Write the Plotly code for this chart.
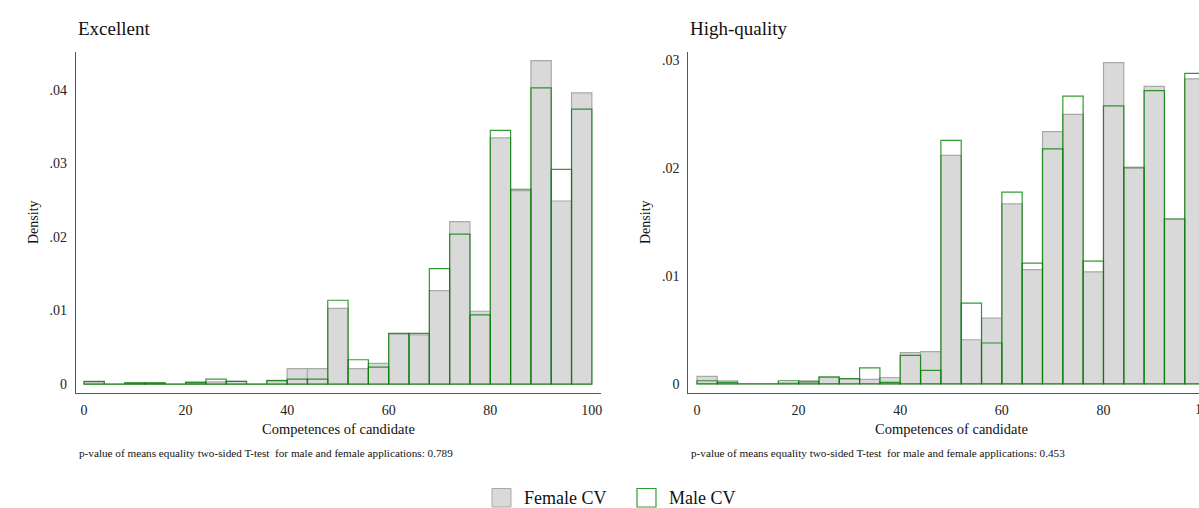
import numpy as np
import plotly.graph_objects as go

# ---- data (densities per 4-point bin, 0..100) ----
bin_edges = np.arange(0, 100, 4)
bin_width = 4

exc_female = [0.0003, 0.0, 0.00015, 0.00015, 0.0, 0.0003, 0.0003, 0.00036, 0.0, 0.0005,
              0.0021, 0.0021, 0.0103, 0.0021, 0.0028, 0.0068, 0.0067, 0.0127, 0.0221, 0.0099,
              0.0335, 0.0263, 0.0440, 0.0249, 0.0396]
exc_male = [0.00035, 0.0, 0.00015, 0.00015, 0.0, 0.0002, 0.00068, 0.00036, 0.0, 0.00045,
            0.00068, 0.00068, 0.0114, 0.0033, 0.0023, 0.0069, 0.0069, 0.0157, 0.0204, 0.0094,
            0.0345, 0.0265, 0.0403, 0.0292, 0.0374]

hq_female = [0.0007, 0.0003, 0.0, 0.0, 0.0001, 0.0003, 0.0006, 0.00046, 0.00043, 0.0006,
             0.0029, 0.0030, 0.0212, 0.0041, 0.0061, 0.0167, 0.0106, 0.0234, 0.0250, 0.0104,
             0.0298, 0.0200, 0.0276, 0.0153, 0.0283]
hq_male = [0.0003, 0.00015, 0.0, 0.0, 0.0003, 0.0002, 0.00065, 0.0005, 0.0015, 0.00015,
           0.00265, 0.00126, 0.0226, 0.0075, 0.0038, 0.0178, 0.0112, 0.0218, 0.0267, 0.0114,
           0.0258, 0.0201, 0.0272, 0.0153, 0.0288]

panel_titles = ["Excellent", "High-quality"]
x_ticks = [0, 20, 40, 60, 80, 100]
y_ticks_left = [0, 0.01, 0.02, 0.03, 0.04]
y_ticks_right = [0, 0.01, 0.02, 0.03]
y_ticktext_left = ["0", ".01", ".02", ".03", ".04"]
y_ticktext_right = ["0", ".01", ".02", ".03"]
notes = ["p-value of means equality two-sided T-test  for male and female applications: 0.789",
         "p-value of means equality two-sided T-test  for male and female applications: 0.453"]
series_names = ["Female CV", "Male CV"]

# ---- style ----
W, H = 1199, 508
FONT = "Liberation Serif"
fem_fill = "#d9d9d9"
fem_line = "#a9a9a9"
male_line = "rgba(0,128,0,0.8)"
axis_col = "#555555"

centers = bin_edges + bin_width / 2

def px(x):
    return x / W

def py(y):
    return (H - y) / H

fig = go.Figure()
for ax, (fem, male) in enumerate([(exc_female, exc_male), (hq_female, hq_male)]):
    xa = "x" if ax == 0 else "x2"
    ya = "y" if ax == 0 else "y2"
    fig.add_trace(go.Bar(x=centers, y=fem, width=bin_width, xaxis=xa, yaxis=ya,
                         marker=dict(color=fem_fill, line=dict(color=fem_line, width=1.2)),
                         name=series_names[0], showlegend=False))
    fig.add_trace(go.Bar(x=centers, y=male, width=bin_width, xaxis=xa, yaxis=ya,
                         marker=dict(color="rgba(0,0,0,0)", line=dict(color=male_line, width=1.2)),
                         name=series_names[1], showlegend=False))

ydom = [py(392.7), py(52)]
common_x = dict(showline=True, linecolor=axis_col, linewidth=1, ticks="", showgrid=False,
                zeroline=False, tickvals=x_ticks, tickfont=dict(family=FONT, size=14, color="#222"),
                ticklabelstandoff=4)
common_y = dict(showline=True, linecolor=axis_col, linewidth=1, ticks="", showgrid=False,
                zeroline=False, tickfont=dict(family=FONT, size=14, color="#222"),
                ticklabelstandoff=5)

fig.update_layout(
    width=W, height=H, margin=dict(l=0, r=0, t=0, b=0),
    plot_bgcolor="white", paper_bgcolor="white", barmode="overlay", showlegend=False,
    xaxis=dict(domain=[px(75.7), px(601)], range=[-1.63, 101.8], anchor="y", **common_x),
    yaxis=dict(domain=ydom, range=[-0.00118, 0.04517], anchor="x",
               tickvals=y_ticks_left, ticktext=y_ticktext_left, **common_y),
    xaxis2=dict(domain=[px(688.3), 1.0], range=[-1.71, 98.8], anchor="y2", **common_x),
    yaxis2=dict(domain=ydom, range=[-0.00081, 0.03079], anchor="x2",
                tickvals=y_ticks_right, ticktext=y_ticktext_right, **common_y),
)

ann = []
tfont = dict(family=FONT, color="#111")
for i, (xl, xc, xd) in enumerate([(76, 338, 33), (688, 951, 645)]):
    ann.append(dict(text=panel_titles[i], x=px(xl), y=py(28), xref="paper", yref="paper",
                    xanchor="left", yanchor="middle", showarrow=False, font=dict(size=19, **tfont)))
    ann.append(dict(text="Competences of candidate", x=px(xc), y=py(429), xref="paper", yref="paper",
                    xanchor="center", yanchor="middle", showarrow=False, font=dict(size=14.5, **tfont)))
    ann.append(dict(text="Density", x=px(xd), y=py(222), xref="paper", yref="paper", textangle=-90,
                    xanchor="center", yanchor="middle", showarrow=False, font=dict(size=14, **tfont)))
    ann.append(dict(text=notes[i], x=px(xl + 1), y=py(453), xref="paper", yref="paper",
                    xanchor="left", yanchor="middle", showarrow=False, font=dict(size=11.2, **tfont)))
# clipped "100" tick label of right panel (cut by the picture edge as in the original)
ann.append(dict(text="100", x=px(1205), y=py(409), xref="paper", yref="paper", xanchor="center",
                yanchor="middle", showarrow=False, font=dict(family=FONT, size=14, color="#222")))

# manual legend
shapes = [
    dict(type="rect", xref="paper", yref="paper", x0=px(492), x1=px(511), y0=py(507), y1=py(488.5),
         fillcolor=fem_fill, line=dict(color=fem_line, width=1)),
    dict(type="rect", xref="paper", yref="paper", x0=px(637), x1=px(656), y0=py(507), y1=py(488.5),
         fillcolor="white", line=dict(color=male_line, width=1.2)),
]
ann.append(dict(text=series_names[0], x=px(521.5), y=py(497.5), xref="paper", yref="paper",
                xanchor="left", yanchor="middle", showarrow=False, font=dict(size=18, **tfont)))
ann.append(dict(text=series_names[1], x=px(666.5), y=py(497.5), xref="paper", yref="paper",
                xanchor="left", yanchor="middle", showarrow=False, font=dict(size=18, **tfont)))

fig.update_layout(annotations=ann, shapes=shapes)
fig.write_html("out.html")
